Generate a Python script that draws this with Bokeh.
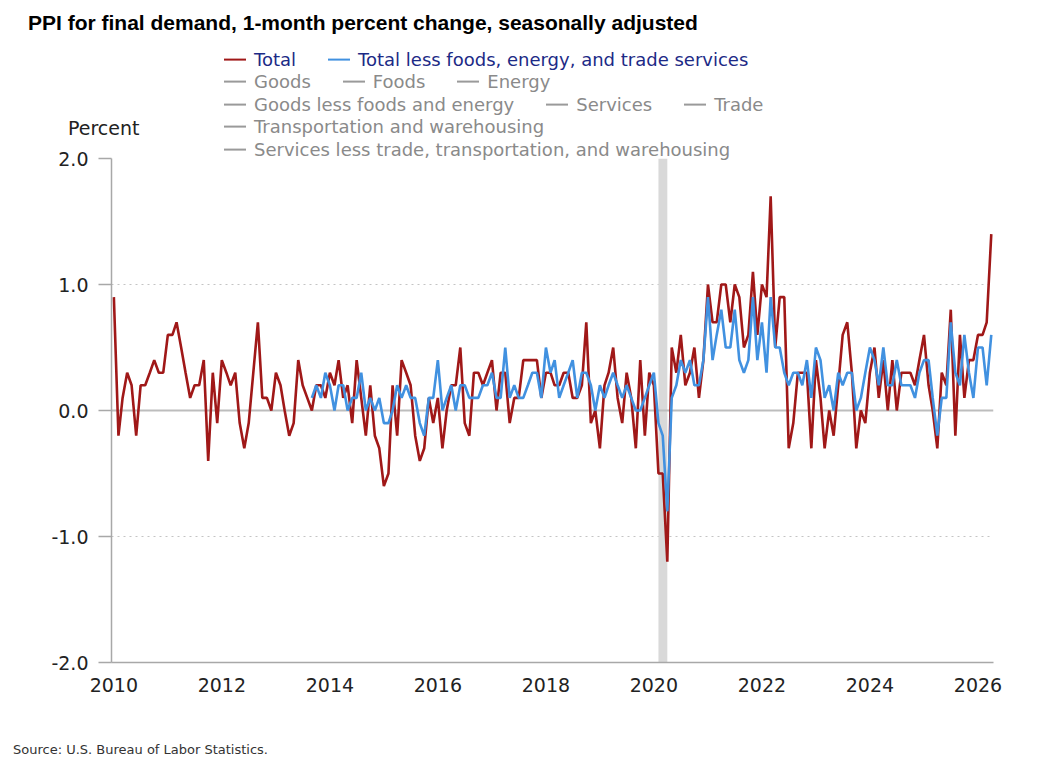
import pandas as pd
from bokeh.plotting import figure
from bokeh.layouts import column
from bokeh.models import (Range1d, FixedTicker, NumeralTickFormatter, DatetimeTickFormatter,
                          Span, BoxAnnotation, Div)
from bokeh.embed import file_html
from bokeh.resources import INLINE

# ---------------- data (1-month percent change, seasonally adjusted) ----------------
total_start = "2010-01-01"
total = [
    0.9, -0.2, 0.1, 0.3, 0.2, -0.2, 0.2, 0.2, 0.3, 0.4, 0.3, 0.3,      # 2010
    0.6, 0.6, 0.7, 0.5, 0.3, 0.1, 0.2, 0.2, 0.4, -0.4, 0.3, -0.1,      # 2011
    0.4, 0.3, 0.2, 0.3, -0.1, -0.3, -0.1, 0.3, 0.7, 0.1, 0.1, 0.0,     # 2012
    0.3, 0.2, 0.0, -0.2, -0.1, 0.4, 0.2, 0.1, 0.0, 0.2, 0.2, 0.1,      # 2013
    0.3, 0.2, 0.4, 0.1, 0.2, -0.1, 0.4, 0.1, -0.2, 0.2, -0.2, -0.3,    # 2014
    -0.6, -0.5, 0.2, -0.2, 0.4, 0.3, 0.2, -0.2, -0.4, -0.3, 0.1, -0.1, # 2015
    0.1, -0.3, 0.0, 0.2, 0.2, 0.5, -0.1, -0.2, 0.3, 0.3, 0.2, 0.3,     # 2016
    0.4, 0.0, 0.3, 0.3, -0.1, 0.1, 0.1, 0.4, 0.4, 0.4, 0.4, 0.1,       # 2017
    0.3, 0.3, 0.2, 0.2, 0.3, 0.3, 0.1, 0.1, 0.2, 0.7, -0.1, 0.0,       # 2018
    -0.3, 0.2, 0.3, 0.5, 0.1, -0.1, 0.3, 0.1, -0.3, 0.4, -0.2, 0.3,    # 2019
    0.2, -0.5, -0.5, -1.2, 0.5, 0.3, 0.6, 0.2, 0.3, 0.5, 0.1, 0.4,     # 2020
    1.0, 0.7, 0.7, 1.0, 1.0, 0.7, 1.0, 0.9, 0.5, 0.6, 1.1, 0.6,        # 2021
    1.0, 0.9, 1.7, 0.5, 0.9, 0.9, -0.3, -0.1, 0.3, 0.3, 0.3, -0.3,     # 2022
    0.4, 0.1, -0.3, 0.0, -0.2, 0.2, 0.6, 0.7, 0.3, -0.3, 0.0, -0.1,    # 2023
    0.3, 0.5, 0.1, 0.4, 0.0, 0.4, 0.0, 0.3, 0.3, 0.3, 0.2, 0.4,        # 2024
    0.6, 0.2, 0.0, -0.3, 0.3, 0.2, 0.8, -0.2, 0.6, 0.1, 0.4, 0.4,      # 2025
    0.6, 0.6, 0.7, 1.4,                                                # 2026
]

core_start = "2013-09-01"
core = [
    0.1, 0.2, 0.1, 0.3,                                                # 2013
    0.2, 0.0, 0.2, 0.2, 0.0, 0.1, 0.1, 0.3, 0.0, 0.1, 0.0, 0.1,        # 2014
    -0.1, -0.1, 0.0, 0.2, 0.1, 0.2, 0.1, 0.1, -0.1, -0.2, 0.1, 0.1,    # 2015
    0.4, 0.0, 0.1, 0.2, 0.0, 0.2, 0.2, 0.1, 0.1, 0.1, 0.2, 0.2,        # 2016
    0.3, 0.1, 0.1, 0.5, 0.1, 0.2, 0.1, 0.1, 0.2, 0.3, 0.3, 0.1,        # 2017
    0.5, 0.3, 0.4, 0.1, 0.2, 0.3, 0.4, 0.1, 0.3, 0.3, 0.2, 0.0,        # 2018
    0.2, 0.1, 0.2, 0.3, 0.2, 0.1, 0.2, 0.1, 0.0, 0.0, 0.1, 0.2,        # 2019
    0.3, -0.1, -0.2, -0.8, 0.1, 0.2, 0.4, 0.3, 0.4, 0.2, 0.2, 0.4,     # 2020
    0.9, 0.4, 0.6, 0.8, 0.5, 0.5, 0.8, 0.4, 0.3, 0.4, 0.9, 0.4,        # 2021
    0.7, 0.3, 0.9, 0.5, 0.5, 0.3, 0.2, 0.3, 0.3, 0.2, 0.4, 0.1,        # 2022
    0.5, 0.4, 0.1, 0.2, 0.0, 0.3, 0.2, 0.3, 0.3, 0.0, 0.1, 0.3,        # 2023
    0.5, 0.4, 0.2, 0.5, 0.2, 0.2, 0.4, 0.2, 0.2, 0.2, 0.1, 0.3,        # 2024
    0.4, 0.4, 0.1, -0.2, 0.1, 0.1, 0.7, 0.3, 0.2, 0.6, 0.3, 0.1,       # 2025
    0.5, 0.5, 0.2, 0.6,                                                # 2026
]

year_ticks = [2010, 2012, 2014, 2016, 2018, 2020, 2022, 2024, 2026]
y_ticks = [-2.0, -1.0, 0.0, 1.0, 2.0]
recession = ("2020-02-01", "2020-04-01")

legend_rows = [
    ["Total", "Total less foods, energy, and trade services"],
    ["Goods", "Foods", "Energy"],
    ["Goods less foods and energy", "Services", "Trade"],
    ["Transportation and warehousing"],
    ["Services less trade, transportation, and warehousing"],
]

title_text = "PPI for final demand, 1-month percent change, seasonally adjusted"
y_label = "Percent"
source_text = "Source: U.S. Bureau of Labor Statistics."

# ---------------- styling ----------------
RED = "#a01818"
BLUE = "#4191e0"
GRAY = "#9a9a9a"
FONT = "DejaVu Sans"
W = 1050
HEADER_H = 132
FIG_H = 572
FOOTER_H = 40
TOP_BORDER = 16
DX, DY = -5, -4   # compensation for the Div content offset

months = pd.date_range(total_start, periods=len(total), freq="MS")
core_months = pd.date_range(core_start, periods=len(core), freq="MS")


def ms(s):
    return pd.Timestamp(s).timestamp() * 1000.0


def pos(left, top_center, inner, extra="", lh=1.2):
    return (f'<div style="position:absolute;left:{left + DX}px;top:{top_center + DY}px;'
            f'transform:translateY(-50%);white-space:nowrap;line-height:{lh};{extra}">'
            f'{inner}</div>')


# ---------------- header (title, legend, axis title) ----------------
header_parts = [
    pos(28, 22, title_text,
        "font-family:'Liberation Sans',Arial,sans-serif;font-weight:bold;"
        "font-size:21px;color:#000;"),
    pos(68, 127, y_label, f"font-family:'{FONT}';font-size:19px;color:#222;"),
]
row_centers = [58, 80, 103, 125, 148]
for i, labels in enumerate(legend_rows):
    items = ""
    for j, lab in enumerate(labels):
        if lab == "Total":
            mc = RED
        elif lab.startswith("Total less"):
            mc = BLUE
        else:
            mc = GRAY
        tc = "#1c2a86" if i == 0 else "#8a8a8a"
        gap = "32px" if j < len(labels) - 1 else "0"
        items += (f'<span style="display:inline-block;width:22px;height:2px;'
                  f'background:{mc};margin-right:8px;vertical-align:middle;"></span>'
                  f'<span style="color:{tc};margin-right:{gap};vertical-align:middle;">{lab}</span>')
    header_parts.append(pos(224, row_centers[i], items,
                            f"font-family:'{FONT}';font-size:18px;"))

header = Div(text=('<div style="position:relative;width:%dpx;height:%dpx;">' % (W, HEADER_H))
             + "".join(header_parts) + "</div>",
             width=W, height=HEADER_H, styles={"overflow": "visible", "z-index": "1"})

# ---------------- chart ----------------
p = figure(width=W, height=FIG_H, x_axis_type="datetime", output_backend="svg",
           toolbar_location=None,
           x_range=Range1d(ms("2009-12-16"), ms("2026-04-16")),
           y_range=Range1d(-2.0, 2.0),
           min_border_left=111, min_border_right=W - 993,
           min_border_top=TOP_BORDER, min_border_bottom=FIG_H - TOP_BORDER - 504)
p.outline_line_color = None
p.background_fill_color = "white"
p.border_fill_alpha = 0

p.add_layout(BoxAnnotation(left=ms(recession[0]), right=ms(recession[1]),
                           fill_color="#d9d9d9", fill_alpha=1.0, line_alpha=0,
                           level="underlay"))

p.xaxis.ticker = FixedTicker(ticks=[ms(f"{y}-01-01") for y in year_ticks])
p.xaxis.formatter = DatetimeTickFormatter(years="%Y", months="%Y", days="%Y", hours="%Y",
                                          hourmin="%Y", minutes="%Y", minsec="%Y",
                                          seconds="%Y", milliseconds="%Y", microseconds="%Y")
p.yaxis.ticker = FixedTicker(ticks=y_ticks)
p.yaxis.formatter = NumeralTickFormatter(format="0.0")
for ax in (p.xaxis[0], p.yaxis[0]):
    ax.axis_line_color = "#a8a8a8"
    ax.axis_line_width = 1.5
    ax.major_label_text_font = FONT
    ax.major_label_text_font_size = "19px"
    ax.major_label_text_color = "#222222"
    ax.minor_tick_line_color = None
    ax.major_tick_in = 0
p.xaxis.major_tick_out = 0
p.xaxis.major_label_standoff = 15
p.yaxis.major_tick_out = 13
p.yaxis.major_tick_line_color = "#a8a8a8"
p.yaxis.major_tick_line_width = 1.5
p.yaxis.major_label_standoff = 10

p.xgrid.grid_line_color = None
p.ygrid.ticker = FixedTicker(ticks=y_ticks)
p.ygrid.grid_line_color = "#c4c4c4"
p.ygrid.grid_line_dash = "2 4"
p.ygrid.grid_line_width = 1

p.add_layout(Span(location=0, dimension="width", line_color="#bdbdbd", line_width=2,
                  level="underlay"))

p.line(months, total, line_color=RED, line_width=2.6)
p.line(core_months, core, line_color=BLUE, line_width=2.6)

# ---------------- footer ----------------
footer = Div(text=('<div style="position:relative;width:%dpx;height:%dpx;">' % (W, FOOTER_H))
             + pos(13, 35, source_text, f"font-family:'{FONT}';font-size:13px;color:#333;",
                   lh=1.05)
             + "</div>",
             width=W, height=FOOTER_H, styles={"overflow": "visible"})

layout = column(header, p, footer, spacing=0)
open("out.html", "w").write(file_html(layout, INLINE))
